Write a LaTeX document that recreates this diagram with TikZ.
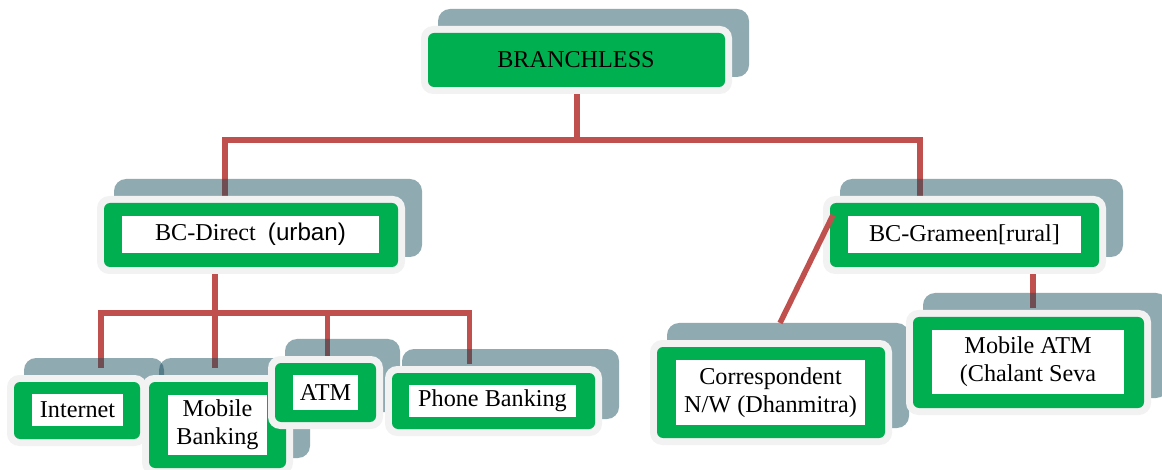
\documentclass[tikz,border=0pt]{standalone}
\usepackage{fontspec}
\setmainfont{Liberation Serif}
\newfontfamily\arialfont{Liberation Sans}
\definecolor{boxgreen}{HTML}{00B050}
\definecolor{outerc}{HTML}{F2F2F2}
\definecolor{shadowc}{RGB}{20,74,91}
\definecolor{connc}{HTML}{C0504D}
\tikzset{
  shadowbox/.style={fill=shadowc, fill opacity=0.47, rounded corners=12pt},
  outerbox/.style={fill=outerc, rounded corners=12pt},
  greenbox/.style={fill=boxgreen, rounded corners=6pt},
  whitebox/.style={fill=white, inner sep=0pt, align=center, font=\fontsize{24.2}{28}\selectfont},
  plaintext/.style={inner sep=0pt, align=center, font=\fontsize{24.2}{28}\selectfont},
  conn/.style={draw=connc, line width=5.5pt},
}
% #1,#2 = green top-left, #3,#4 = green bottom-right (px)
\newcommand{\stackbox}[4]{%
  \path[shadowbox] ({#1+10},{#2-24}) rectangle ({#3+24},{#4-10});
  \path[outerbox] ({#1-7},{#2-7}) rectangle ({#3+7},{#4+7});
  \path[greenbox] (#1,#2) rectangle (#3,#4);
}
\begin{document}
\begin{tikzpicture}[x=1pt,y=-1pt]
\useasboundingbox (0,0) rectangle (1162,470);
% connector end points
\coordinate (bl-s) at (577,94);
\coordinate (j-top) at (577,140);
\coordinate (bd-n) at (225,196);
\coordinate (bg-n) at (920,196);
\coordinate (bd-s) at (215,273);
\coordinate (j-mid) at (215,313);
\coordinate (in-n) at (101,368);
\coordinate (mb-n) at (215,368);
\coordinate (atm-n) at (327.5,356);
\coordinate (ph-n) at (469.5,364);
\coordinate (bg-s) at (1033,273);
\coordinate (ma-n) at (1033,308);
\coordinate (bg-w) at (833,215);
\coordinate (co-n) at (780,323);
% connectors (under the boxes)
\draw[conn] (bl-s) -- (j-top);
\draw[conn] (bd-n) -- (bd-n |- j-top) -- (bg-n |- j-top) -- (bg-n);
\draw[conn] (bd-s) -- (j-mid);
\draw[conn] (in-n) -- (in-n |- j-mid) -- (ph-n |- j-mid) -- (ph-n);
\draw[conn] (mb-n) -- (mb-n |- j-mid);
\draw[conn] (atm-n) -- (atm-n |- j-mid);
\draw[conn] (bg-s) -- (ma-n);
% BRANCHLESS
\stackbox{428}{33}{725}{87}
\node[plaintext] (branchless) at (576,60) {BRANCHLESS};
% BC-Direct
\stackbox{104}{203}{398}{267}
\node[whitebox, minimum width=257pt, minimum height=37pt] (bcdirect) at (250.5,234.5) {BC-Direct\ \ {\arialfont (urban)}};
% BC-Grameen
\stackbox{830}{203}{1099}{267}
\node[whitebox, minimum width=233pt, minimum height=37pt] (bcgrameen) at (964.5,234.5) {BC-Grameen[rural]};
% Internet
\stackbox{14}{382}{140}{439}
\node[whitebox, minimum width=91pt, minimum height=32pt] (internet) at (77.5,410) {Internet};
% Mobile Banking
\stackbox{149}{382}{286}{468}
\node[whitebox, minimum width=99pt, minimum height=60pt] (mobilebanking) at (217.5,425) {Mobile\\Banking};
% ATM
\stackbox{275}{363}{376}{422}
\node[whitebox, minimum width=65pt, minimum height=35pt] (atm) at (325.5,392.5) {ATM};
% Phone Banking
\stackbox{392}{373}{595}{429}
\node[whitebox, minimum width=167pt, minimum height=32pt] (phone) at (492.5,401) {Phone Banking};
% Correspondent
\stackbox{657}{347}{885}{438}
\node[whitebox, minimum width=189pt, minimum height=65pt] (corr) at (770.5,392.5) {Correspondent\\N/W (Dhanmitra)};
% Mobile ATM
\stackbox{913}{317}{1144}{408}
\node[whitebox, minimum width=192pt, minimum height=64pt] (mobileatm) at (1028,362) {Mobile ATM\\(Chalant Seva};
% diagonal connector drawn over BC-Grameen
\draw[conn] (bg-w) -- (co-n);
\end{tikzpicture}
\end{document}
